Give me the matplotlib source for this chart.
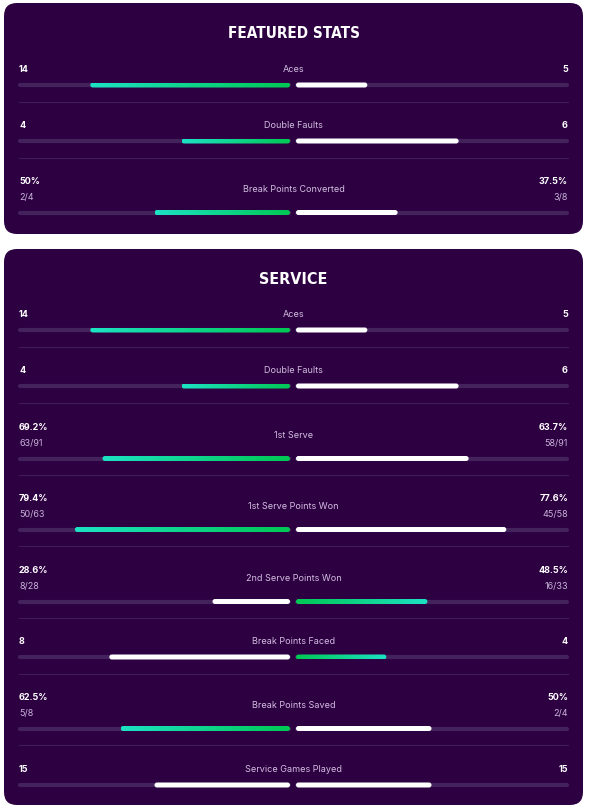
import numpy as np
import matplotlib.pyplot as plt
import matplotlib.font_manager as fm
from matplotlib.patches import FancyBboxPatch
from matplotlib.colors import LinearSegmentedColormap

# ---- dados ----
featured_labels = ['Aces', 'Double Faults', 'Break Points Converted']
featured_left = ['14', '4', '50%']
featured_right = ['5', '6', '37.5%']
featured_left_sub = ['', '', '2/4']
featured_right_sub = ['', '', '3/8']
featured_left_val = [14, 4, 50.0]
featured_right_val = [5, 6, 37.5]
featured_pct = [False, False, True]
featured_winner = ['L', 'L', 'L']

service_labels = ['Aces', 'Double Faults', '1st Serve', '1st Serve Points Won',
                  '2nd Serve Points Won', 'Break Points Faced', 'Break Points Saved',
                  'Service Games Played']
service_left = ['14', '4', '69.2%', '79.4%', '28.6%', '8', '62.5%', '15']
service_right = ['5', '6', '63.7%', '77.6%', '48.5%', '4', '50%', '15']
service_left_sub = ['', '', '63/91', '50/63', '8/28', '', '5/8', '']
service_right_sub = ['', '', '58/91', '45/58', '16/33', '', '2/4', '']
service_left_val = [14, 4, 69.2, 79.4, 28.6, 8, 62.5, 15]
service_right_val = [5, 6, 63.7, 77.6, 48.5, 4, 50.0, 15]
service_pct = [False, False, True, True, True, False, True, False]
service_winner = ['L', 'L', 'L', 'L', 'R', 'R', 'L', '']

# ---- estilo ----
BG = '#2d0042'
TRACK = '#44225c'
SEP = '#3e1c55'
LABEL = '#d2bfe0'
SUB = '#c8b4d8'
WHITE = '#ffffff'
grad = LinearSegmentedColormap.from_list('g', ['#00c853', '#1de2c4'])

# fonte condensada para os títulos (se existir)
title_prop = fm.FontProperties(family='DejaVu Sans', weight='bold')
cands = []
for f in fm.fontManager.ttflist:
    if 'condensed' in str(f.stretch) or 'Condensed' in f.name or 'Narrow' in f.name:
        w = f.weight if isinstance(f.weight, int) else (700 if 'bold' in str(f.weight) else 400)
        cands.append((abs(w - 700), f.fname))
if cands:
    cands.sort()
    title_prop = fm.FontProperties(fname=cands[0][1])

W, H = 589, 812
fig = plt.figure(figsize=(W / 100, H / 100), dpi=100)
fig.patch.set_facecolor('white')
ax = fig.add_axes([0, 0, 1, 1])
ax.set_xlim(0, W)
ax.set_ylim(H, 0)
ax.axis('off')

X0, XC, X1 = 19, 293, 568
GAP = 3
TRACK_W = XC - GAP - X0
BAR_H = 5
FONT = ['Inter', 'DejaVu Sans']


def draw_bar(x_a, x_b, y, kind):
    if x_b - x_a < 1:
        return
    if kind == 'white':
        p = FancyBboxPatch((x_a, y - BAR_H / 2), x_b - x_a, BAR_H,
                           boxstyle='round,pad=0,rounding_size=2.5',
                           fc=WHITE, ec='none', zorder=4)
        ax.add_patch(p)
        return
    p = FancyBboxPatch((x_a, y - BAR_H / 2), x_b - x_a, BAR_H,
                       boxstyle='round,pad=0,rounding_size=2.5',
                       fc='none', ec='none', zorder=4)
    ax.add_patch(p)
    g = np.linspace(0, 1, 256).reshape(1, -1)
    if kind == 'gradL':
        g = g[:, ::-1]
    im = ax.imshow(g, cmap=grad, extent=(x_a, x_b, y + BAR_H / 2, y - BAR_H / 2),
                   aspect='auto', zorder=4, interpolation='bicubic')
    im.set_clip_path(p)


def fit_title(t, target_w):
    # ajusta o tamanho para a largura desejada
    r = fig.canvas.get_renderer()
    bb = t.get_window_extent(renderer=r)
    t.set_fontsize(t.get_fontsize() * target_w / bb.width)


def draw_panel(y_top, y_bot, title, title_w, labels, lt, rt, lsub, rsub, lv, rv, pct, win, row_tops):
    ax.add_patch(FancyBboxPatch((4, y_top), 579, y_bot - y_top,
                                boxstyle='round,pad=0,rounding_size=13',
                                fc=BG, ec='none', zorder=1))
    t = ax.text(W / 2 - 1, y_top + 30, title, fontproperties=title_prop,
                fontsize=17, color=WHITE, ha='center', va='center', zorder=5)
    fit_title(t, title_w)
    for i, lab in enumerate(labels):
        yt = row_tops[i] + 0.5
        two = lsub[i] != ''
        bar_y = yt + (32 if two else 16.5)
        ax.text(X0, yt, lt[i], family=FONT, weight='bold', fontsize=6.5,
                color=WHITE, ha='left', va='center', zorder=5)
        ax.text(X1, yt, rt[i], family=FONT, weight='bold', fontsize=6.5,
                color=WHITE, ha='right', va='center', zorder=5)
        if two:
            ax.text(X0, yt + 16, lsub[i], family=FONT, fontsize=6.5,
                    color=SUB, ha='left', va='center', zorder=5)
            ax.text(X1, yt + 16, rsub[i], family=FONT, fontsize=6.5,
                    color=SUB, ha='right', va='center', zorder=5)
            ax.text(W / 2 - 1, yt + 8, lab, family=FONT, fontsize=6.5,
                    color=LABEL, ha='center', va='center', zorder=5)
        else:
            ax.text(W / 2 - 1, yt, lab, family=FONT, fontsize=6.5,
                    color=LABEL, ha='center', va='center', zorder=5)
        # trilhos
        ax.plot([X0 + 1, XC - GAP - 1], [bar_y, bar_y], color=TRACK, lw=3,
                solid_capstyle='round', zorder=2)
        ax.plot([XC + GAP + 1, X1 - 1], [bar_y, bar_y], color=TRACK, lw=3,
                solid_capstyle='round', zorder=2)
        if pct[i]:
            fl, fr = lv[i] / 100, rv[i] / 100
        else:
            tot = lv[i] + rv[i]
            fl, fr = lv[i] / tot, rv[i] / tot
        draw_bar(XC - GAP - fl * TRACK_W, XC - GAP, bar_y,
                 'gradL' if win[i] == 'L' else 'white')
        draw_bar(XC + GAP, XC + GAP + fr * TRACK_W, bar_y,
                 'gradR' if win[i] == 'R' else 'white')
        if i < len(labels) - 1:
            ax.plot([X0, X1], [bar_y + 16.5, bar_y + 16.5], color=SEP, lw=0.8, zorder=2)


draw_panel(4, 235, 'FEATURED STATS', 132, featured_labels, featured_left, featured_right,
           featured_left_sub, featured_right_sub, featured_left_val, featured_right_val,
           featured_pct, featured_winner, [69, 125, 181])
draw_panel(250, 806, 'SERVICE', 68, service_labels, service_left, service_right,
           service_left_sub, service_right_sub, service_left_val, service_right_val,
           service_pct, service_winner, [314, 370, 427, 498, 570, 641, 697, 769])

fig.savefig('out.png', dpi=100, facecolor='white')
